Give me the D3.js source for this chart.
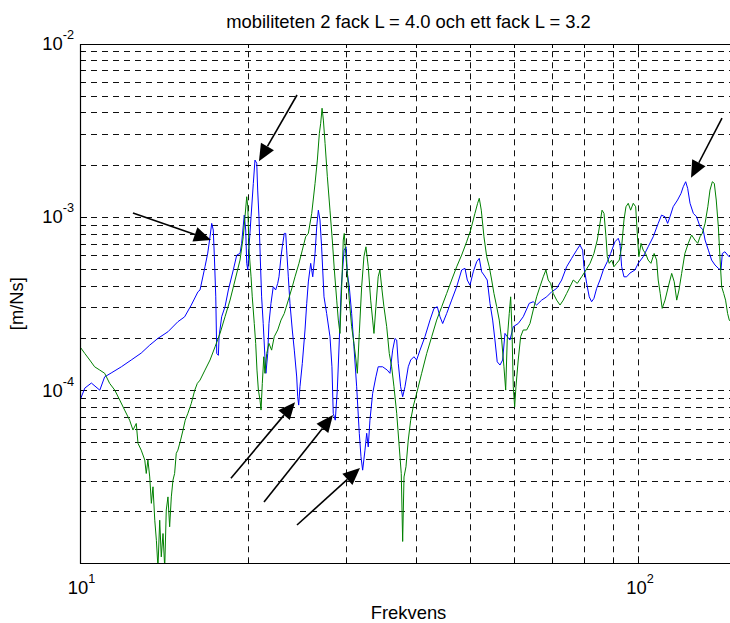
<!DOCTYPE html>
<html>
<head>
<meta charset="utf-8">
<script src="https://cdn.jsdelivr.net/npm/d3@7"></script>
<style>
  html, body { margin: 0; padding: 0; background: #fff; }
  svg { display: block; }
</style>
</head>
<body>
<svg id="chart" width="730" height="623"></svg>
<script>
// Mobility spectra, frequency in Hz, mobility in m/Ns
const blueFreq = [
  10.0, 10.2, 10.48, 10.85, 11.07, 11.37, 11.86, 12.35, 12.87, 13.33,
  13.79, 14.37, 14.97, 15.39, 15.82, 16.26, 16.40, 16.74, 16.93, 17.09,
  17.21, 17.32, 17.40, 17.50, 17.57, 17.69, 17.74, 17.93, 18.18, 18.43,
  18.81, 19.08, 19.34, 19.47, 19.68, 19.80, 19.88, 19.97, 20.07, 20.24,
  20.43, 20.57, 20.72, 20.80, 20.91, 21.02, 21.14, 21.28, 21.43, 21.52,
  21.68, 21.79, 21.97, 22.18, 22.40, 22.59, 22.71, 22.90, 23.02, 23.21,
  23.35, 23.44, 23.60, 23.76, 23.99, 24.19, 24.43, 24.53, 24.63, 24.76,
  25.00, 25.28, 25.46, 25.63, 25.88, 26.10, 26.35, 26.53, 26.71, 26.89,
  27.07, 27.34, 27.64, 28.02, 28.25, 28.40, 28.64, 28.88, 29.12, 29.36,
  29.70, 29.94, 30.10, 30.34, 30.64, 30.93, 31.28, 31.62, 31.84, 32.06,
  32.37, 32.60, 32.81, 33.04, 33.41, 33.86, 34.18, 34.81, 35.48, 35.88,
  36.28, 36.63, 36.89, 37.13, 37.50, 37.81, 38.17, 38.69, 39.08, 39.61,
  40.05, 40.61, 41.45, 42.32, 43.02, 43.61, 44.10, 44.59, 45.33, 46.27,
  47.24, 48.22, 48.88, 49.35, 49.90, 50.58, 51.30, 51.85, 52.36, 52.86,
  53.58, 54.19, 54.79, 55.31, 55.83, 56.47, 57.09, 57.64, 58.18, 58.84,
  59.65, 60.88, 62.15, 63.70, 64.76, 65.68, 67.05, 68.45, 69.87, 71.33,
  72.81, 74.33, 75.88, 77.46, 78.52, 79.40, 79.81, 80.72, 81.58, 82.39,
  83.18, 84.11, 85.27, 86.44, 87.88, 89.10, 90.70, 91.94, 92.59, 93.24,
  94.13, 95.19, 96.49, 98.49, 99.84, 101.9, 104.0, 106.2, 108.4, 109.9,
  111.5, 112.7, 113.8, 115.3, 117.4, 119.1, 120.2, 121.4, 122.4, 123.6,
  125.3, 127.0, 128.8, 130.5, 131.5, 133.3, 135.1, 137.0, 138.9, 140.4,
  141.2, 142.7, 145.1, 148.0
];
const blueMob = [
  8.8e-5, 1.035e-4, 1.107e-4, 1.007e-4, 1.202e-4, 1.265e-4, 1.374e-4, 1.503e-4, 1.648e-4, 1.832e-4,
  2.004e-4, 2.188e-4, 2.50e-4, 2.667e-4, 3.12e-4, 3.72e-4, 3.81e-4, 5.19e-4, 6.22e-4, 7.73e-4,
  9.23e-4, 8.45e-4, 5.93e-4, 3.48e-4, 1.64e-4, 1.60e-4, 2.05e-4, 2.67e-4, 3.05e-4, 3.81e-4,
  4.97e-4, 6.06e-4, 6.19e-4, 7.08e-4, 1.03e-3, 8.45e-4, 5.43e-4, 4.97e-4, 6.76e-4, 1.008e-3,
  1.57e-3, 2.14e-3, 2.05e-3, 1.437e-3, 1.008e-3, 5.93e-4, 3.48e-4, 2.44e-4, 1.57e-4, 1.26e-4,
  1.64e-4, 2.44e-4, 3.19e-4, 3.98e-4, 3.81e-4, 4.16e-4, 4.54e-4, 5.93e-4, 6.76e-4, 8.08e-4,
  8.08e-4, 6.47e-4, 4.54e-4, 3.19e-4, 2.24e-4, 1.714e-4, 1.20e-4, 9.23e-5, 8.26e-5, 1.053e-4,
  1.437e-4, 2.24e-4, 3.19e-4, 4.24e-4, 5.43e-4, 4.54e-4, 6.19e-4, 8.83e-4, 1.10e-3, 9.65e-4,
  6.76e-4, 3.48e-4, 2.79e-4, 2.05e-4, 1.374e-4, 7.40e-5, 6.76e-5, 1.008e-4, 1.96e-4, 3.98e-4,
  6.47e-4, 6.76e-4, 4.75e-4, 3.98e-4, 2.79e-4, 1.792e-4, 1.053e-4, 5.68e-5, 4.16e-5, 3.48e-5,
  4.54e-5, 5.68e-5, 4.74e-5, 6.76e-5, 9.65e-5, 1.202e-4, 1.374e-4, 1.374e-4, 1.315e-4, 1.26e-4,
  1.714e-4, 2.00e-4, 1.96e-4, 1.437e-4, 1.053e-4, 9.23e-5, 1.053e-4, 1.374e-4, 1.503e-4, 1.57e-4,
  1.503e-4, 1.714e-4, 2.05e-4, 2.555e-4, 2.985e-4, 3.05e-4, 2.67e-4, 2.44e-4, 2.79e-4, 3.33e-4,
  3.98e-4, 4.97e-4, 5.08e-4, 4.35e-4, 4.06e-4, 4.85e-4, 5.55e-4, 5.80e-4, 4.85e-4, 4.65e-4,
  4.35e-4, 3.19e-4, 2.555e-4, 1.96e-4, 1.468e-4, 1.406e-4, 1.503e-4, 2.14e-4, 2.05e-4, 1.96e-4,
  2.34e-4, 2.44e-4, 2.67e-4, 3.19e-4, 3.26e-4, 3.12e-4, 3.33e-4, 3.48e-4, 3.72e-4, 3.89e-4,
  4.35e-4, 5.19e-4, 5.80e-4, 6.47e-4, 6.92e-4, 6.47e-4, 5.19e-4, 4.16e-4, 3.48e-4, 3.26e-4,
  3.41e-4, 3.89e-4, 4.35e-4, 4.97e-4, 5.55e-4, 6.19e-4, 7.23e-4, 7.57e-4, 7.08e-4, 5.19e-4,
  4.54e-4, 4.54e-4, 4.77e-4, 4.97e-4, 5.43e-4, 5.93e-4, 6.76e-4, 7.73e-4, 9.23e-4, 1.03e-3,
  1.008e-3, 9.23e-4, 1.008e-3, 1.151e-3, 1.259e-3, 1.375e-3, 1.502e-3, 1.605e-3, 1.47e-3, 1.205e-3,
  1.054e-3, 1.008e-3, 8.83e-4, 8.45e-4, 7.40e-4, 6.47e-4, 5.67e-4, 5.31e-4, 5.08e-4, 4.97e-4,
  6.19e-4, 6.33e-4, 5.93e-4, 6.1e-4
];

const greenFreq = [
  10.0, 10.2, 10.41, 10.62, 10.85, 11.07, 11.30, 11.54, 11.78, 12.02,
  12.27, 12.44, 12.61, 12.70, 12.87, 13.06, 13.14, 13.23, 13.33, 13.42,
  13.51, 13.61, 13.70, 13.79, 13.89, 13.98, 14.08, 14.18, 14.27, 14.37,
  14.47, 14.57, 14.67, 14.77, 14.87, 14.97, 15.14, 15.29, 15.43, 15.60,
  15.82, 16.05, 16.22, 16.40, 16.74, 17.09, 17.45, 17.81, 18.18, 18.56,
  18.95, 19.34, 19.60, 19.74, 19.88, 19.97, 20.07, 20.24, 20.34, 20.51,
  20.63, 20.74, 20.86, 21.00, 21.09, 21.20, 21.33, 21.43, 21.59, 21.79,
  22.03, 22.27, 22.59, 22.90, 23.21, 23.60, 23.99, 24.26, 24.66, 25.00,
  25.35, 25.63, 25.99, 26.35, 26.60, 26.82, 26.97, 27.12, 27.27, 27.46,
  27.72, 28.02, 28.29, 28.53, 28.81, 29.00, 29.20, 29.41, 29.60, 29.72,
  29.90, 30.10, 30.34, 30.64, 30.93, 31.19, 31.37, 31.62, 31.93, 32.23,
  32.50, 32.81, 33.14, 33.41, 33.59, 33.86, 34.18, 34.43, 34.67, 35.00,
  35.40, 35.78, 36.13, 36.48, 36.89, 37.28, 37.59, 37.81, 38.02, 38.33,
  38.69, 39.08, 39.51, 40.05, 40.89, 41.75, 42.62, 43.50, 44.41, 45.33,
  46.27, 47.24, 48.22, 49.22, 50.04, 50.93, 51.50, 51.85, 52.28, 52.86,
  53.46, 54.03, 54.57, 55.08, 55.71, 56.30, 56.86, 57.40, 57.81, 58.18,
  58.67, 59.01, 59.33, 59.65, 59.99, 60.31, 60.88, 61.49, 62.15, 63.03,
  63.90, 64.76, 65.68, 66.58, 67.49, 68.24, 68.89, 69.58, 70.33, 71.33,
  72.32, 73.31, 74.33, 75.37, 76.38, 77.66, 79.07, 80.50, 81.85, 83.18,
  84.33, 85.27, 86.00, 86.70, 87.41, 87.88, 88.60, 89.48, 90.33, 91.35,
  92.33, 93.24, 94.13, 94.91, 95.81, 96.76, 97.81, 98.79, 99.61, 100.1,
  101.0, 101.9, 102.9, 104.0, 105.2, 106.6, 107.7, 108.4, 109.3, 110.2,
  111.5, 113.0, 114.6, 115.8, 117.0, 118.1, 119.4, 121.0, 122.7, 124.4,
  126.1, 127.6, 128.8, 130.0, 131.5, 133.0, 134.2, 135.5, 136.6, 137.7,
  138.9, 139.8, 140.8, 142.0, 143.1, 144.3, 145.3, 148.0
];
const greenMob = [
  1.792e-4, 1.64e-4, 1.503e-4, 1.374e-4, 1.315e-4, 1.26e-4, 1.102e-4, 1.008e-4, 8.83e-5, 7.73e-5,
  6.76e-5, 5.93e-5, 6.47e-5, 4.97e-5, 4.54e-5, 3.98e-5, 3.33e-5, 3.98e-5, 3.18e-5, 2.24e-5,
  2.79e-5, 1.79e-5, 1.37e-5, 9.5e-6, 1.79e-5, 1.10e-5, 1.50e-5, 9.5e-6, 2.05e-5, 2.44e-5,
  1.64e-5, 2.44e-5, 3.05e-5, 3.33e-5, 4.35e-5, 4.54e-5, 5.19e-5, 5.93e-5, 6.76e-5, 7.40e-5,
  8.45e-5, 1.008e-4, 1.102e-4, 1.151e-4, 1.315e-4, 1.503e-4, 1.792e-4, 2.14e-4, 2.67e-4, 3.33e-4,
  4.35e-4, 5.67e-4, 7.73e-4, 1.008e-3, 1.315e-3, 1.151e-3, 6.47e-4, 4.54e-4, 3.48e-4, 2.44e-4,
  1.875e-4, 1.315e-4, 1.008e-4, 8.83e-5, 7.73e-5, 1.102e-4, 1.57e-4, 1.26e-4, 1.64e-4, 1.875e-4,
  1.714e-4, 2.05e-4, 2.24e-4, 2.555e-4, 2.79e-4, 3.33e-4, 3.98e-4, 4.54e-4, 5.43e-4, 6.47e-4,
  7.73e-4, 8.08e-4, 1.054e-3, 1.57e-3, 2.14e-3, 3.05e-3, 3.49e-3, 4.26e-3, 3.64e-3, 2.67e-3,
  1.715e-3, 1.10e-3, 7.40e-4, 4.97e-4, 3.33e-4, 2.555e-4, 2.14e-4, 3.98e-4, 7.40e-4, 8.08e-4,
  6.19e-4, 4.75e-4, 3.33e-4, 2.34e-4, 1.875e-4, 1.503e-4, 1.26e-4, 2.14e-4, 3.98e-4, 5.93e-4,
  6.76e-4, 5.19e-4, 3.33e-4, 2.555e-4, 2.14e-4, 3.05e-4, 4.54e-4, 4.97e-4, 3.98e-4, 3.05e-4,
  2.34e-4, 1.64e-4, 1.374e-4, 1.053e-4, 7.40e-5, 4.74e-5, 3.33e-5, 1.35e-5, 3.18e-5, 3.64e-5,
  5.19e-5, 6.76e-5, 8.15e-5, 9.65e-5, 1.26e-4, 1.64e-4, 2.05e-4, 2.555e-4, 3.05e-4, 3.64e-4,
  4.35e-4, 5.19e-4, 6.06e-4, 7.23e-4, 8.45e-4, 1.054e-3, 1.205e-3, 1.288e-3, 1.10e-3, 7.73e-4,
  5.93e-4, 5.19e-4, 4.35e-4, 3.64e-4, 3.05e-4, 2.555e-4, 1.96e-4, 1.374e-4, 1.008e-4, 1.96e-4,
  2.79e-4, 3.48e-4, 2.24e-4, 1.053e-4, 8.07e-5, 1.053e-4, 1.503e-4, 2.05e-4, 2.24e-4, 2.24e-4,
  2.44e-4, 2.92e-4, 3.48e-4, 3.98e-4, 4.54e-4, 4.97e-4, 4.35e-4, 4.16e-4, 3.64e-4, 3.33e-4,
  3.12e-4, 3.33e-4, 3.64e-4, 3.98e-4, 4.35e-4, 4.16e-4, 4.54e-4, 4.97e-4, 5.43e-4, 6.19e-4,
  7.40e-4, 9.23e-4, 1.10e-3, 1.054e-3, 7.73e-4, 5.93e-4, 5.43e-4, 5.67e-4, 5.19e-4, 5.43e-4,
  5.67e-4, 6.76e-4, 9.65e-4, 1.151e-3, 1.205e-3, 1.10e-3, 1.205e-3, 1.151e-3, 7.40e-4, 5.93e-4,
  7.08e-4, 6.47e-4, 6.19e-4, 5.67e-4, 5.43e-4, 6.19e-4, 5.67e-4, 4.35e-4, 3.64e-4, 2.985e-4,
  3.33e-4, 3.98e-4, 4.75e-4, 4.25e-4, 3.33e-4, 3.81e-4, 4.75e-4, 6.19e-4, 7.08e-4, 7.91e-4,
  7.40e-4, 7.08e-4, 7.73e-4, 8.08e-4, 9.23e-4, 1.151e-3, 1.437e-3, 1.605e-3, 1.57e-3, 1.259e-3,
  8.83e-4, 5.93e-4, 3.98e-4, 3.64e-4, 3.33e-4, 2.79e-4, 2.555e-4, 2.4e-4
];

// Labelled decades on each axis
const xTickValues = [10, 100];
const yTickValues = [1e-4, 1e-3, 1e-2];

// Arrows marking resonance peaks and dips: [frequency, mobility] of tail and tip
const arrowTails = [[12.44, 1.06e-3], [24.46, 5.08e-3], [18.63, 3.13e-5], [21.35, 2.28e-5], [24.46, 1.68e-5], [141.0, 3.74e-3]];
const arrowTips  = [[17.16, 7.40e-4], [20.91, 2.11e-3], [24.26, 8.59e-5], [28.37, 7.23e-5], [31.71, 3.58e-5], [124.1, 1.69e-3]];

const titleText = "mobiliteten 2 fack L = 4.0 och ett fack L = 3.2";
const xLabelText = "Frekvens";
const yLabelText = "[m/Ns]";

// ---- layout ----
const FONT = '"Liberation Sans", Arial, Helvetica, sans-serif';
const plotL = 80, plotT = 44, plotR = 737, plotB = 563.3;

const x = d3.scaleLog().domain([10, 150]).range([plotL, plotR]);
const y = d3.scaleLog().domain([1.01e-5, 1e-2]).range([plotB, plotT]);

const svg = d3.select("#chart");

svg.append("defs").append("clipPath").attr("id", "plotArea")
  .append("rect").attr("x", plotL).attr("y", plotT)
  .attr("width", plotR - plotL).attr("height", plotB - plotT);

const snap = v => Math.floor(v) + 0.5;

// dashed grid at every log tick
const xGrid = x.ticks().filter(v => v > 10);
const yGrid = y.ticks().filter(v => v < 1e-2);

const grid = svg.append("g")
  .attr("stroke", "#111").attr("stroke-width", 1)
  .attr("stroke-dasharray", "6,5").attr("fill", "none");

grid.selectAll("line.gx").data(xGrid).join("line")
  .attr("class", "gx")
  .attr("x1", d => snap(x(d))).attr("x2", d => snap(x(d)))
  .attr("y1", plotB).attr("y2", plotT);

grid.selectAll("line.gy").data(yGrid).join("line")
  .attr("class", "gy")
  .attr("x1", plotL).attr("x2", plotR)
  .attr("y1", d => snap(y(d))).attr("y2", d => snap(y(d)));

// tick marks (inside the box)
const ticks = svg.append("g").attr("stroke", "#000").attr("stroke-width", 1);
const isMajor = v => Math.abs(Math.log10(v) - Math.round(Math.log10(v))) < 1e-6;
xGrid.forEach(v => {
  const len = isMajor(v) ? 7 : 4;
  const px = snap(x(v));
  ticks.append("line").attr("x1", px).attr("x2", px).attr("y1", plotB).attr("y2", plotB - len);
  ticks.append("line").attr("x1", px).attr("x2", px).attr("y1", plotT).attr("y2", plotT + len);
});
yGrid.forEach(v => {
  const len = isMajor(v) ? 7 : 4;
  const py = snap(y(v));
  ticks.append("line").attr("x1", plotL).attr("x2", plotL + len).attr("y1", py).attr("y2", py);
});

// data curves
const line = d3.line().x(d => x(d[0])).y(d => y(d[1]));
const curves = svg.append("g").attr("clip-path", "url(#plotArea)");

const blueData = d3.zip(blueFreq, blueMob);
const greenData = d3.zip(greenFreq, greenMob);

curves.append("path").datum(blueData)
  .attr("d", line).attr("fill", "none")
  .attr("stroke", "#0000ff").attr("stroke-width", 1).attr("stroke-linejoin", "round");

curves.append("path").datum(greenData)
  .attr("d", line).attr("fill", "none")
  .attr("stroke", "#008000").attr("stroke-width", 1).attr("stroke-linejoin", "round");

// axes box (left, bottom, top)
const box = svg.append("g").attr("stroke", "#000").attr("stroke-width", 1.2).attr("fill", "none");
box.append("line").attr("x1", plotL + 0.5).attr("x2", plotL + 0.5).attr("y1", plotT).attr("y2", plotB + 0.5);
box.append("line").attr("x1", plotL).attr("x2", plotR).attr("y1", snap(plotB)).attr("y2", snap(plotB));
box.append("line").attr("x1", plotL).attr("x2", plotR).attr("y1", plotT + 0.5).attr("y2", plotT + 0.5);

// tick labels with exponent superscripts
function powerLabel(sel, v) {
  const e = Math.round(Math.log10(v));
  sel.append("tspan").text("10");
  sel.append("tspan").attr("dy", -11).attr("font-size", 12.7).text(String(e));
}

svg.selectAll("text.xt").data(xTickValues).join("text")
  .attr("class", "xt")
  .attr("x", d => x(d) + 1.5).attr("y", 593.5)
  .attr("text-anchor", "middle")
  .attr("font-family", FONT).attr("font-size", 18.4).attr("fill", "#000")
  .each(function (d) { powerLabel(d3.select(this), d); });

svg.selectAll("text.yt").data(yTickValues).join("text")
  .attr("class", "yt")
  .attr("x", 74).attr("y", d => y(d) + 6)
  .attr("text-anchor", "end")
  .attr("font-family", FONT).attr("font-size", 18.4).attr("fill", "#000")
  .each(function (d) { powerLabel(d3.select(this), d); });

// title and axis labels
svg.append("text").attr("x", (plotL + plotR) / 2).attr("y", 28)
  .attr("text-anchor", "middle").attr("font-family", FONT).attr("font-size", 18.4)
  .text(titleText);

svg.append("text").attr("x", (plotL + plotR) / 2).attr("y", 619)
  .attr("text-anchor", "middle").attr("font-family", FONT).attr("font-size", 18.4)
  .text(xLabelText);

svg.append("text")
  .attr("transform", `translate(23,${(plotT + plotB) / 2}) rotate(-90)`)
  .attr("text-anchor", "middle").attr("font-family", FONT).attr("font-size", 18.4)
  .text(yLabelText);

// annotation arrows
const arrows = svg.append("g");
d3.zip(arrowTails, arrowTips).forEach(([t, h]) => {
  const x0 = x(t[0]), y0 = y(t[1]), x1 = x(h[0]), y1 = y(h[1]);
  const ang = Math.atan2(y1 - y0, x1 - x0);
  const hl = 17, hw = 7.5;
  const bx = x1 - hl * Math.cos(ang), by = y1 - hl * Math.sin(ang);
  arrows.append("line")
    .attr("x1", x0).attr("y1", y0).attr("x2", bx).attr("y2", by)
    .attr("stroke", "#000").attr("stroke-width", 1.6);
  const px = -Math.sin(ang), py = Math.cos(ang);
  arrows.append("path")
    .attr("d", `M${x1},${y1}L${bx + hw * px},${by + hw * py}L${bx - hw * px},${by - hw * py}Z`)
    .attr("fill", "#000");
});
</script>
</body>
</html>
